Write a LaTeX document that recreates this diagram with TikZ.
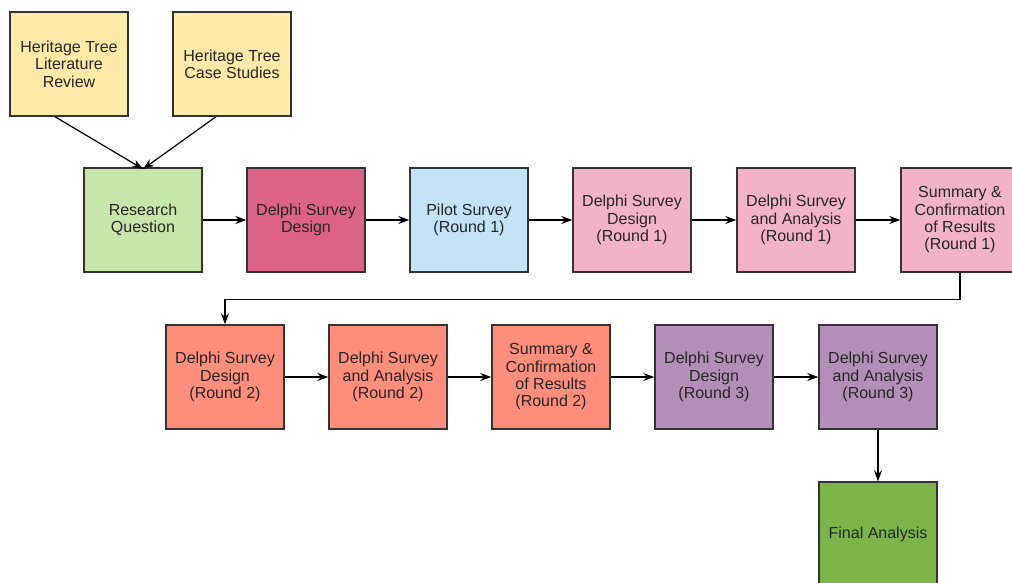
\documentclass[tikz,border=0pt]{standalone}
\usepackage{fontspec}
\setmainfont{Liberation Sans}
\usetikzlibrary{arrows.meta}
\definecolor{cyel}{HTML}{FFE9A8}
\definecolor{cgrn}{HTML}{C7E6AA}
\definecolor{cdpk}{HTML}{DC6386}
\definecolor{cblu}{HTML}{C2E2F5}
\definecolor{clpk}{HTML}{F2B3C8}
\definecolor{csal}{HTML}{FF8D7B}
\definecolor{cpur}{HTML}{B28FB6}
\definecolor{cfin}{HTML}{7BB54A}
\definecolor{cbrd}{HTML}{333333}
\tikzset{
  box/.style={draw=cbrd, line width=1.4pt, minimum width=118pt, minimum height=104pt,
    inner sep=0pt, align=center, text=black!85, font=\fontsize{16}{17.3}\selectfont},
  conn/.style={draw=black, line width=1.2pt, -{Stealth[length=11pt,width=8pt]}}
}
\begin{document}
\begin{tikzpicture}[x=1pt,y=-1pt]
\useasboundingbox (0,0) rectangle (1012,582);
\node[box, fill=cyel] (lit) at (69,64) {Heritage Tree\\Literature\\Review};
\node[box, fill=cyel] (case) at (232,64) {Heritage Tree\\Case Studies};
\node[box, fill=cgrn] (rq) at (143,220) {Research\\Question};
\node[box, fill=cdpk] (dsd) at (306,220) {Delphi Survey\\Design};
\node[box, fill=cblu] (pil) at (469,220) {Pilot Survey\\(Round 1)};
\node[box, fill=clpk] (d1) at (632,220) {Delphi Survey\\Design\\(Round 1)};
\node[box, fill=clpk] (a1) at (796,220) {Delphi Survey\\and Analysis\\(Round 1)};
\node[box, fill=clpk] (s1) at (960,220) {Summary \&\\Confirmation\\of Results\\(Round 1)};
\node[box, fill=csal] (d2) at (225,377) {Delphi Survey\\Design\\(Round 2)};
\node[box, fill=csal] (a2) at (388,377) {Delphi Survey\\and Analysis\\(Round 2)};
\node[box, fill=csal] (s2) at (551,377) {Summary \&\\Confirmation\\of Results\\(Round 2)};
\node[box, fill=cpur] (d3) at (714,377) {Delphi Survey\\Design\\(Round 3)};
\node[box, fill=cpur] (a3) at (878,377) {Delphi Survey\\and Analysis\\(Round 3)};
\node[box, fill=cfin] (fin) at (878,534) {Final Analysis};
\coordinate (rqtop) at (143,169);
\draw[conn] (lit.south) ++(-14,0) -- (rqtop);
\draw[conn] (case.south) ++(-16,0) -- (rqtop);
\draw[conn] (rq) -- (dsd);
\draw[conn] (dsd) -- (pil);
\draw[conn] (pil) -- (d1);
\draw[conn] (d1) -- (a1);
\draw[conn] (a1) -- (s1);
\draw[conn] (s1.south) -- ++(0,27) -| (d2.north);
\draw[conn] (d2) -- (a2);
\draw[conn] (a2) -- (s2);
\draw[conn] (s2) -- (d3);
\draw[conn] (d3) -- (a3);
\draw[conn] (a3) -- (fin);
\end{tikzpicture}
\end{document}
